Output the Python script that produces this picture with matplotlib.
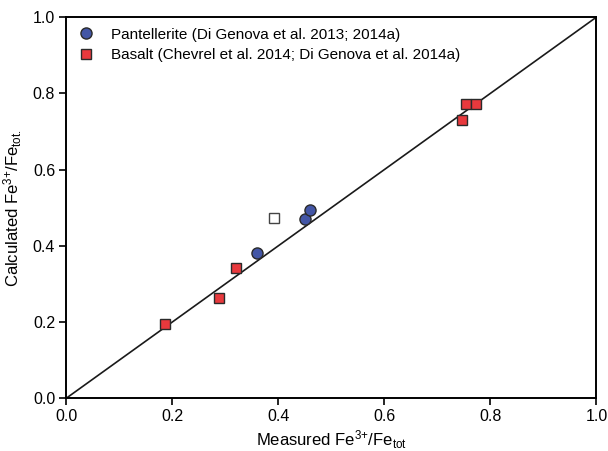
import matplotlib
matplotlib.use('Agg')
import matplotlib.pyplot as plt

plt.rcParams['font.family'] = ['Liberation Sans', 'DejaVu Sans']
plt.rcParams['mathtext.default'] = 'regular'

# Pantellerite (measured, calculated)
pant_meas = [0.36, 0.45, 0.46]
pant_calc = [0.382, 0.471, 0.493]

# Basalt
bas_meas = [0.187, 0.288, 0.321, 0.746, 0.754, 0.772]
bas_calc = [0.194, 0.264, 0.342, 0.729, 0.771, 0.771]

# open square (not in legend)
open_meas = [0.391]
open_calc = [0.473]

fig = plt.figure(figsize=(6.08, 4.51), dpi=100)
ax = fig.add_axes([0.109, 0.117, 0.872, 0.845])

ax.plot([0, 1], [0, 1], color='#1a1a1a', lw=1.2, zorder=1)

ax.plot(pant_meas, pant_calc, 'o', ms=8, mfc='#4356a6', mec='#2a2a2a', mew=1.0,
        label='Pantellerite (Di Genova et al. 2013; 2014a)', zorder=3)
ax.plot(bas_meas, bas_calc, 's', ms=6.8, mfc='#e8393d', mec='#2a2a2a', mew=1.0,
        label='Basalt (Chevrel et al. 2014; Di Genova et al. 2014a)', zorder=3)
ax.plot(open_meas, open_calc, 's', ms=6.8, mfc='white', mec='#444444', mew=1.0, zorder=3)

ax.set_xlim(0, 1)
ax.set_ylim(0, 1)
ticks = [0.0, 0.2, 0.4, 0.6, 0.8, 1.0]
ax.set_xticks(ticks)
ax.set_yticks(ticks)
ax.set_xticklabels(['%.1f' % t for t in ticks])
ax.set_yticklabels(['%.1f' % t for t in ticks])
ax.tick_params(direction='out', length=5, width=1.2, labelsize=11.5, pad=3,
               top=False, right=False)
for s in ax.spines.values():
    s.set_linewidth(1.4)

ax.set_xlabel('Measured Fe$^{3{+}}$/Fe$_{tot}$', fontsize=12, labelpad=3)
ax.set_ylabel('Calculated Fe$^{3{+}}$/Fe$_{tot.}$', fontsize=12, labelpad=6)

ax.legend(loc='upper left', frameon=False, fontsize=11, handletextpad=1.0,
          borderaxespad=0.3, handlelength=1.2, labelspacing=0.4,
          bbox_to_anchor=(0.0, 1.0))

fig.savefig('out.png', dpi=100)
